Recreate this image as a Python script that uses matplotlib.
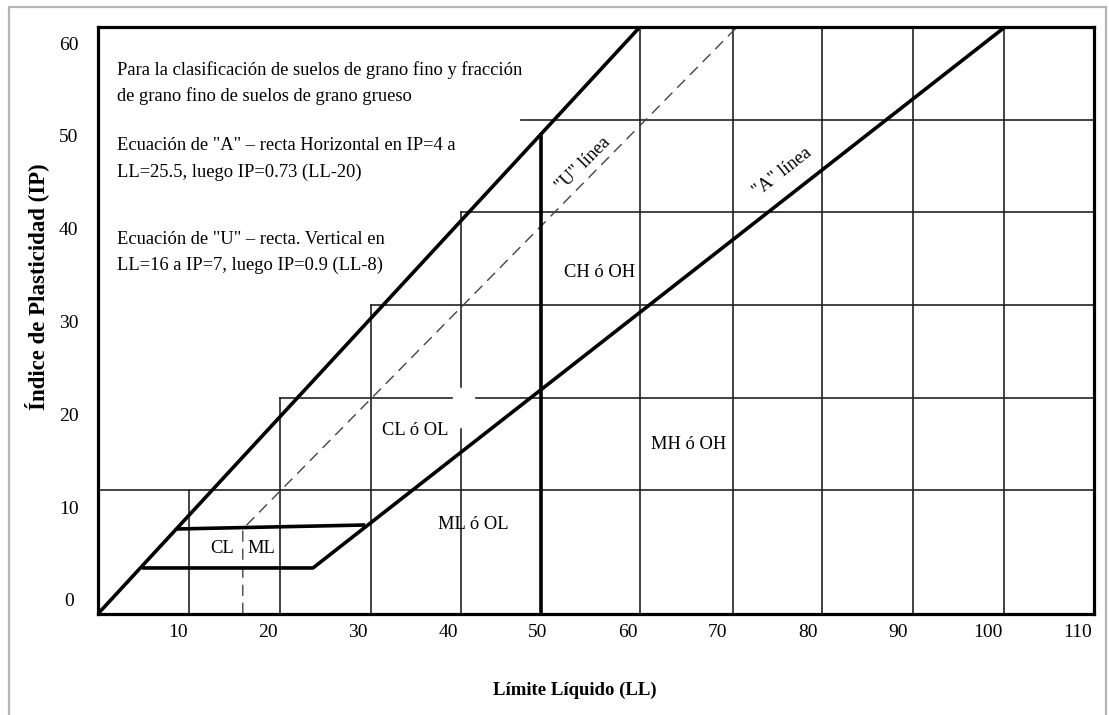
import matplotlib.pyplot as plt
from matplotlib.patches import Rectangle

plt.rcParams['font.family'] = ['Liberation Serif', 'DejaVu Serif']

# ticks (LL horizontal, IP vertical)
ll_ticks = [10, 20, 30, 40, 50, 60, 70, 80, 90, 100, 110]
ip_ticks = [0, 10, 20, 30, 40, 50, 60]

# grid lines: vertical ones rise from the bottom to a given IP
grid_ll = [11.2, 21.3, 31.4, 41.4, 61.4, 71.7, 81.6, 91.7, 101.8]
grid_ll_top = [11.8, 21.8, 31.8, 41.8, 61.8, 61.8, 61.8, 61.8, 61.8]
# horizontal ones run from a given LL to the right edge
grid_ip = [11.8, 21.8, 31.8, 41.8, 51.7]
grid_ip_start = [1.1, 21.3, 31.4, 41.4, 48.1]
# blank cross where LL≈41 meets IP≈22
gap_ll = (40.5, 43.1)
gap_ip = (18.4, 22.9)

# boundary lines
steep_ll = [1.1, 61.4]
steep_ip = [-1.5, 61.8]
a_line_ll = [6.0, 25.0, 102.0]
a_line_ip = [3.45, 3.45, 61.8]
clml_top_ll = [9.9, 30.8]
clml_top_ip = [7.65, 8.08]
u_line_ll = [17.2, 17.2, 72.2]
u_line_ip = [-1.5, 7.65, 61.8]
ll_50 = 50.3
ll_50_top = 50.3

XMIN, XMAX = 1.11, 111.8
YMIN, YMAX = -1.51, 61.73

fig = plt.figure(figsize=(11.09, 7.15), dpi=100)
ax = fig.add_axes([98 / 1109, 1 - 614 / 715, 996 / 1109, 587 / 715])
ax.set_xlim(XMIN, XMAX)
ax.set_ylim(YMIN, YMAX)

grid_kw = dict(color='#222222', lw=1.2, zorder=1)
for x, top in zip(grid_ll, grid_ll_top):
    if gap_ll[0] < x < gap_ll[1]:
        ax.plot([x, x], [YMIN, gap_ip[0]], **grid_kw)
        ax.plot([x, x], [gap_ip[1], top], **grid_kw)
    else:
        ax.plot([x, x], [YMIN, top], **grid_kw)
for y, start in zip(grid_ip, grid_ip_start):
    if gap_ip[0] < y < gap_ip[1]:
        ax.plot([start, gap_ll[0]], [y, y], **grid_kw)
        ax.plot([gap_ll[1], XMAX], [y, y], **grid_kw)
    else:
        ax.plot([start, XMAX], [y, y], **grid_kw)

thick = dict(color='black', lw=2.6, solid_capstyle='butt', zorder=3)
ax.plot(steep_ll, steep_ip, **thick)
ax.plot(a_line_ll, a_line_ip, **thick)
ax.plot(clml_top_ll, clml_top_ip, **thick)
ax.plot([ll_50, ll_50], [YMIN, ll_50_top], **thick)
ax.plot(u_line_ll, u_line_ip, color='#444444', lw=1.0,
        linestyle=(0, (8, 5)), zorder=2)

for side in ax.spines.values():
    side.set_linewidth(2.3)
    side.set_zorder(4)

ax.set_xticks(ll_ticks)
ax.set_yticks(ip_ticks)
ax.tick_params(length=0, labelsize=14)
ax.tick_params(axis='x', pad=7)
ax.tick_params(axis='y', pad=21)
for lab in ax.get_yticklabels():
    lab.set_horizontalalignment('center')

# notes
note_kw = dict(fontsize=13.3, ha='left', va='center')
ax.text(3.2, 57.1, 'Para la clasificación de suelos de grano fino y fracción', **note_kw)
ax.text(3.2, 54.3, 'de grano fino de suelos de grano grueso', **note_kw)
ax.text(3.2, 49.0, 'Ecuación de "A" – recta Horizontal en IP=4 a', **note_kw)
ax.text(3.2, 46.1, 'LL=25.5, luego IP=0.73 (LL-20)', **note_kw)
ax.text(3.2, 38.8, 'Ecuación de "U" – recta. Vertical en', **note_kw)
ax.text(3.2, 36.0, 'LL=16 a IP=7, luego IP=0.9 (LL-8)', **note_kw)

zone_kw = dict(fontsize=13.3, ha='center', va='center')
ax.text(56.9, 35.3, 'CH ó OH', **zone_kw)
ax.text(36.4, 18.3, 'CL ó OL', **zone_kw)
ax.text(66.8, 16.7, 'MH ó OH', **zone_kw)
ax.text(42.8, 8.1, 'ML ó OL', **zone_kw)
ax.text(14.9, 5.6, 'CL', **zone_kw)
ax.text(19.3, 5.6, 'ML', **zone_kw)
ax.text(55.0, 46.9, '"U" línea', rotation=45, rotation_mode='anchor', **zone_kw)
ax.text(77.2, 46.1, '"A" línea', rotation=38, rotation_mode='anchor', **zone_kw)

fig.text(575 / 1109, 1 - 690 / 715, 'Límite Líquido (LL)', fontsize=13.5,
         fontweight='bold', ha='center', va='center')
fig.text(37 / 1109, 1 - 287 / 715, 'Índice de Plasticidad (IP)', fontsize=16.5,
         fontweight='bold', rotation=90, ha='center', va='center')

# light frame round the figure
fig.patches.append(Rectangle((9 / 1109, -0.05), 1097 / 1109, 1.05 - 7 / 715,
                             transform=fig.transFigure, fill=False,
                             edgecolor='#b4b4b4', lw=1.6))

fig.savefig('out.png', dpi=100)
